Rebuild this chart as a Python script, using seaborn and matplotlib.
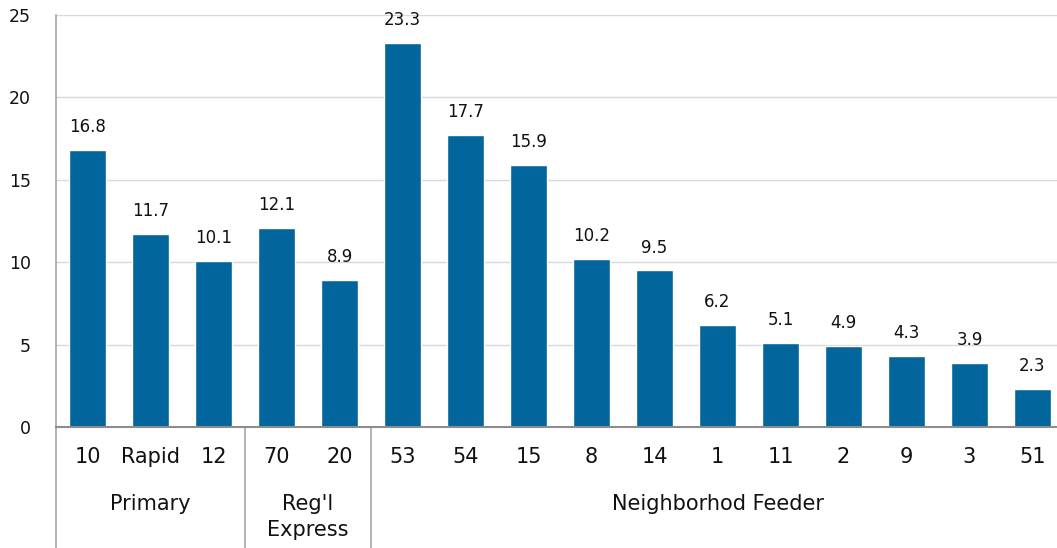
import matplotlib
matplotlib.use("Agg")
import matplotlib.pyplot as plt
import matplotlib.transforms as mtransforms
import seaborn as sns
import pandas as pd

routes = ["10", "Rapid", "12", "70", "20", "53", "54", "15", "8", "14", "1", "11", "2", "9", "3", "51"]
values = [16.8, 11.7, 10.1, 12.1, 8.9, 23.3, 17.7, 15.9, 10.2, 9.5, 6.2, 5.1, 4.9, 4.3, 3.9, 2.3]
groups = ["Primary", "Reg'l\nExpress", "Neighborhod Feeder"]
group_sizes = [3, 2, 11]
yticks = [0, 5, 10, 15, 20, 25]

sns.set_theme(style="white")
plt.rcParams["font.family"] = ["DejaVu Sans"]

BAR = "#02659C"
TXT = "#111111"
W, H = 1057, 548
fig = plt.figure(figsize=(W / 100, H / 100), dpi=100)
ax = fig.add_axes([56 / W, (H - 427) / H, 1008 / W, (427 - 15) / H])

df = pd.DataFrame({"route": routes, "value": values})
sns.barplot(data=df, x="route", y="value", color=BAR, width=0.6, ax=ax,
            saturation=1, order=routes, zorder=3)

ax.set_ylim(0, 25)
ax.set_xlim(-0.5, len(routes) - 0.5)
ax.set_yticks(yticks)
ax.set_yticklabels([str(t) for t in yticks], fontsize=12.5, color=TXT)
ax.tick_params(axis="y", length=0, pad=18)
ax.set_xticks([])
ax.set_xlabel("")
ax.set_ylabel("")
ax.grid(axis="y", color="#d9d9d9", linewidth=1.0, zorder=0)
ax.set_axisbelow(True)
for s in ["top", "right"]:
    ax.spines[s].set_visible(False)
ax.spines["left"].set_color("#a6a6a6")
ax.spines["left"].set_linewidth(1.2)
ax.spines["bottom"].set_color("#8c8c8c")
ax.spines["bottom"].set_linewidth(1.5)
ax.spines["bottom"].set_zorder(4)

for c in ax.containers:
    ax.bar_label(c, labels=[f"{v:.1f}" for v in values], padding=10, fontsize=12, color=TXT)

trans = mtransforms.blended_transform_factory(ax.transData, fig.transFigure)
for i, r in enumerate(routes):
    ax.text(i, 1 - 457 / H, r, transform=trans, ha="center", va="center", fontsize=15, color=TXT)

start = 0
bottom_frac = (H - 427) / H
for g, n in zip(groups, group_sizes):
    center = start + (n - 1) / 2
    ax.text(center, 1 - 494 / H, g, transform=trans, ha="center", va="top",
            fontsize=15, color=TXT, linespacing=1.35)
    ax.plot([start - 0.5, start - 0.5], [0, bottom_frac], transform=trans,
            color="#a6a6a6", linewidth=1.2, clip_on=False)
    start += n

fig.savefig("out.png", dpi=100)
